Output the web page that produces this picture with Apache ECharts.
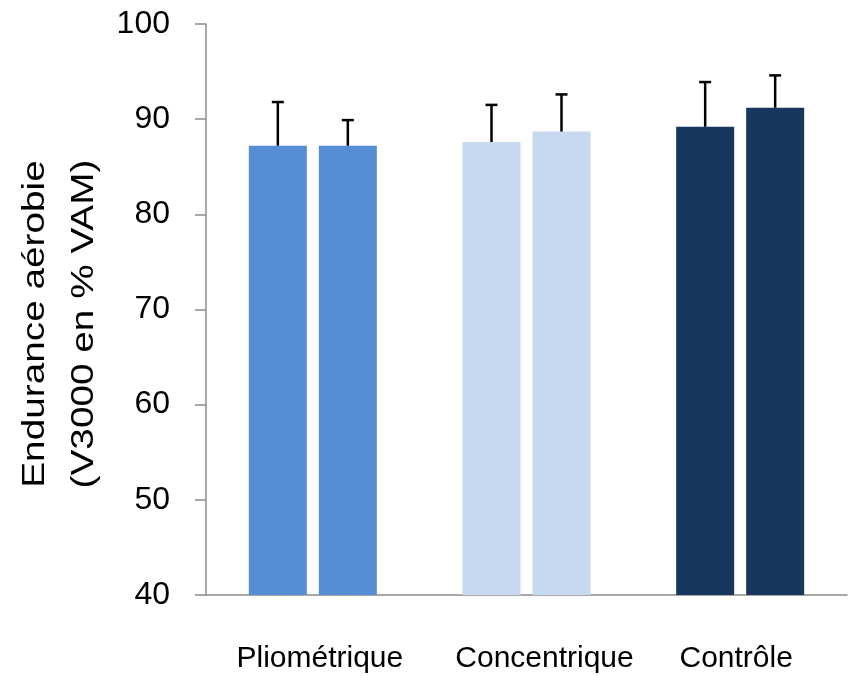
<!DOCTYPE html>
<html style="height: 100%">
<head>
    <meta charset="utf-8">
    <script src="https://cdn.jsdelivr.net/npm/echarts@6/dist/echarts.min.js"></script>
</head>
<body style="height: 100%; margin: 0; background: #fff">
    <div id="main" style="width:853px;height:676px;"></div>
    <script type="text/javascript">
    // données
    var categories = ['Pliométrique', 'Concentrique', 'Contrôle'];
    var preValues = [87.2, 87.6, 89.2];
    var postValues = [87.2, 88.7, 91.2];
    var preSD = [4.6, 3.9, 4.7];
    var postSD = [2.7, 3.9, 3.4];
    var groupColors = ['#558ED5', '#C6D9F1', '#17375E'];
    var yMin = 40, yMax = 100, yStep = 10;

    var myChart = echarts.init(document.getElementById('main'));

    function barData(vals) {
        return vals.map(function(v, i) {
            return { value: v, itemStyle: { color: groupColors[i] } };
        });
    }
    function errData(vals, sds) {
        return vals.map(function(v, i) { return [i, v, v + sds[i]]; });
    }
    // barre d'erreur (vers le haut seulement)
    function errRender(offset) {
        return function(params, api) {
            var base = api.coord([api.value(0), api.value(1)]);
            var top = api.coord([api.value(0), api.value(2)]);
            var x = base[0] + offset;
            var style = { stroke: '#000', lineWidth: 2.5 };
            return {
                type: 'group',
                children: [
                    { type: 'line', shape: { x1: x, y1: base[1], x2: x, y2: top[1] }, style: style },
                    { type: 'line', shape: { x1: x - 6, y1: top[1], x2: x + 6, y2: top[1] }, style: style }
                ]
            };
        };
    }

    var labelStyle = { color: '#000', fontSize: 30, fontFamily: 'Liberation Sans' };
    // petit décalage horizontal des étiquettes comme dans l'original
    var rich = {
        c0: Object.assign({ padding: [0, 0, 0, 14] }, labelStyle),
        c1: Object.assign({ padding: [0, 0, 0, 36] }, labelStyle),
        c2: Object.assign({ padding: [0, 8, 0, 0] }, labelStyle)
    };

    var option = {
        animation: false,
        grid: { left: 206, right: 6, top: 24, bottom: 81 },
        xAxis: {
            type: 'category',
            data: categories,
            axisLine: { lineStyle: { color: '#8c8c8c', width: 1.5 } },
            axisTick: { show: false },
            axisLabel: {
                color: '#000', fontSize: 30, fontFamily: 'Liberation Sans', margin: 49,
                interval: 0, hideOverlap: false, rich: rich,
                formatter: function(v, i) { return '{c' + i + '|' + v + '}'; }
            }
        },
        yAxis: {
            type: 'value',
            min: yMin,
            max: yMax,
            interval: yStep,
            splitLine: { show: false },
            axisLine: { show: true, lineStyle: { color: '#8c8c8c', width: 1.5 } },
            axisTick: { show: true, length: 11, lineStyle: { color: '#8c8c8c', width: 1.5 } },
            axisLabel: { color: '#000', fontSize: 32, fontFamily: 'Liberation Sans', margin: 36 }
        },
        graphic: [{
            type: 'text',
            x: 60,
            y: 324,
            rotation: Math.PI / 2,
            scaleX: 1.25,
            style: {
                text: 'Endurance aérobie\n(V3000 en % VAM)',
                fontSize: 31,
                fontFamily: 'Liberation Sans',
                fill: '#000',
                align: 'center',
                verticalAlign: 'middle',
                lineHeight: 49
            }
        }],
        series: [{
            name: 'Pré',
            type: 'bar',
            data: barData(preValues),
            barWidth: 58,
            barGap: '20.7%'
        }, {
            name: 'Post',
            type: 'bar',
            data: barData(postValues),
            barWidth: 58,
            barGap: '20.7%'
        }, {
            type: 'custom',
            renderItem: errRender(-35),
            data: errData(preValues, preSD),
            z: 10
        }, {
            type: 'custom',
            renderItem: errRender(35),
            data: errData(postValues, postSD),
            z: 10
        }]
    };

    myChart.setOption(option);
    </script>
</body>
</html>
